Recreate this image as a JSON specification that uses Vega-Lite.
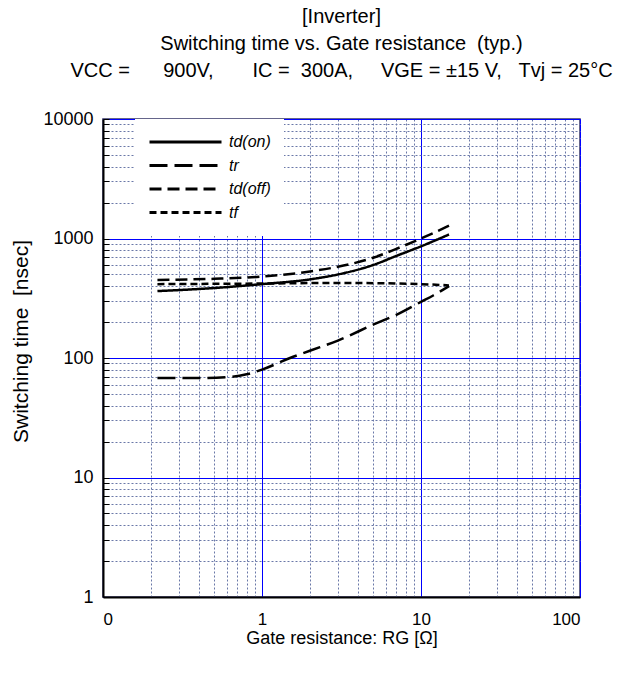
{
  "$schema": "https://vega.github.io/schema/vega-lite/v6.json",
  "width": 477,
  "height": 478,
  "autosize": {"type": "none"},
  "padding": {"left": 103, "top": 119, "right": 45, "bottom": 76},
  "background": "white",
  "config": {
    "font": "Liberation Sans",
    "view": {"stroke": "#333366", "strokeWidth": 1.5},
    "axis": {"labelFont": "Liberation Sans", "titleFont": "Liberation Sans", "labelColor": "black", "titleColor": "black", "titleFontWeight": "normal"}
  },
  "title": {
    "text": ["[Inverter]", "Switching time vs. Gate resistance\u00a0\u00a0(typ.)", "VCC =\u00a0\u00a0\u00a0\u00a0\u00a0\u00a0900V,\u00a0\u00a0\u00a0\u00a0\u00a0\u00a0\u00a0IC =\u00a0\u00a0300A,\u00a0\u00a0\u00a0\u00a0\u00a0VGE = ±15 V,\u00a0\u00a0\u00a0Tvj = 25°C"],
    "fontSize": 20,
    "fontWeight": "normal",
    "font": "Liberation Sans",
    "lineHeight": 27,
    "offset": 29,
    "anchor": "middle",
    "color": "black"
  },
  "data": {
    "values": [
      {"series": "td(on)", "R": 0.22, "t": 363},
      {"series": "td(on)", "R": 0.5, "t": 385},
      {"series": "td(on)", "R": 1, "t": 415},
      {"series": "td(on)", "R": 2, "t": 455},
      {"series": "td(on)", "R": 3, "t": 500},
      {"series": "td(on)", "R": 5, "t": 600},
      {"series": "td(on)", "R": 7, "t": 715},
      {"series": "td(on)", "R": 10, "t": 860},
      {"series": "td(on)", "R": 15, "t": 1080},
      {"series": "tr", "R": 0.22, "t": 68},
      {"series": "tr", "R": 0.4, "t": 68},
      {"series": "tr", "R": 0.6, "t": 69},
      {"series": "tr", "R": 0.8, "t": 73},
      {"series": "tr", "R": 1, "t": 80},
      {"series": "tr", "R": 1.5, "t": 100},
      {"series": "tr", "R": 2, "t": 115},
      {"series": "tr", "R": 3, "t": 140},
      {"series": "tr", "R": 5, "t": 190},
      {"series": "tr", "R": 7, "t": 230},
      {"series": "tr", "R": 10, "t": 295},
      {"series": "tr", "R": 12, "t": 335},
      {"series": "tr", "R": 15, "t": 400},
      {"series": "td(off)", "R": 0.22, "t": 450},
      {"series": "td(off)", "R": 0.5, "t": 460},
      {"series": "td(off)", "R": 1, "t": 480},
      {"series": "td(off)", "R": 2, "t": 530},
      {"series": "td(off)", "R": 3, "t": 580},
      {"series": "td(off)", "R": 5, "t": 690},
      {"series": "td(off)", "R": 7, "t": 820},
      {"series": "td(off)", "R": 10, "t": 1000},
      {"series": "td(off)", "R": 15, "t": 1280},
      {"series": "tf", "R": 0.22, "t": 415},
      {"series": "tf", "R": 1, "t": 420},
      {"series": "tf", "R": 3, "t": 425},
      {"series": "tf", "R": 10, "t": 415},
      {"series": "tf", "R": 15, "t": 405}
    ]
  },
  "mark": {"type": "line", "color": "black", "strokeWidth": 2.5, "interpolate": "monotone", "clip": true},
  "encoding": {
    "x": {
      "field": "R", "type": "quantitative",
      "scale": {"type": "log", "domain": [0.1, 100], "nice": false},
      "axis": {
        "title": "Gate resistance: RG [Ω]",
        "titleFontSize": 18,
        "titlePadding": 2,
        "labelFontSize": 17,
        "labelPadding": 14,
        "values": [0.1,0.2,0.3,0.4,0.5,0.6,0.7,0.8,0.9,1,2,3,4,5,6,7,8,9,10,20,30,40,50,60,70,80,90,100],
        "labelExpr": "datum.value == 0.1 ? '0' : (datum.value == 1 || datum.value == 10 || datum.value == 100 ? format(datum.value, 'd') : '')",
        "labelOverlap": false,
        "ticks": false,
        "domainColor": "black",
        "domainWidth": 2,
        "grid": true,
        "gridColor": {"condition": {"test": "datum.value == 0.1 || datum.value == 1 || datum.value == 10 || datum.value == 100", "value": "#0000FF"}, "value": "#6A78A8"},
        "gridDash": {"condition": {"test": "datum.value == 0.1 || datum.value == 1 || datum.value == 10 || datum.value == 100", "value": []}, "value": [2, 2]},
        "gridWidth": 1
      }
    },
    "y": {
      "field": "t", "type": "quantitative",
      "scale": {"type": "log", "domain": [1, 10000], "nice": false},
      "axis": {
        "title": "Switching time\u00a0\u00a0[nsec]",
        "titleFontSize": 21,
        "titlePadding": 11,
        "titleY": 222,
        "labelFontSize": 18,
        "labelPadding": 16,
        "values": [1,2,3,4,5,6,7,8,9,10,20,30,40,50,60,70,80,90,100,200,300,400,500,600,700,800,900,1000,2000,3000,4000,5000,6000,7000,8000,9000,10000],
        "labelExpr": "datum.value == 1 || datum.value == 10 || datum.value == 100 || datum.value == 1000 || datum.value == 10000 ? format(datum.value, 'd') : ''",
        "labelOverlap": false,
        "ticks": true,
        "tickSize": -6,
        "tickColor": "black",
        "domainColor": "black",
        "domainWidth": 2,
        "grid": true,
        "gridColor": {"condition": {"test": "datum.value == 1 || datum.value == 10 || datum.value == 100 || datum.value == 1000 || datum.value == 10000", "value": "#0000FF"}, "value": "#6A78A8"},
        "gridDash": {"condition": {"test": "datum.value == 1 || datum.value == 10 || datum.value == 100 || datum.value == 1000 || datum.value == 10000", "value": []}, "value": [2, 2]},
        "gridWidth": 1
      }
    },
    "strokeDash": {
      "field": "series", "type": "nominal",
      "scale": {"domain": ["td(on)", "tr", "td(off)", "tf"], "range": [[1, 0], [18, 7], [12, 6], [7, 4]]},
      "legend": {
        "orient": "none",
        "legendX": 32,
        "legendY": 0,
        "title": null,
        "symbolType": "stroke",
        "symbolSize": 5184,
        "symbolStrokeWidth": 3,
        "symbolStrokeColor": "black",
        "clipHeight": 20,
        "rowPadding": 3.5,
        "labelFont": "Liberation Sans",
        "labelFontSize": 16,
        "labelFontStyle": "italic",
        "labelColor": "black",
        "labelOffset": 6,
        "fillColor": "white",
        "padding": 13
      }
    }
  }
}
